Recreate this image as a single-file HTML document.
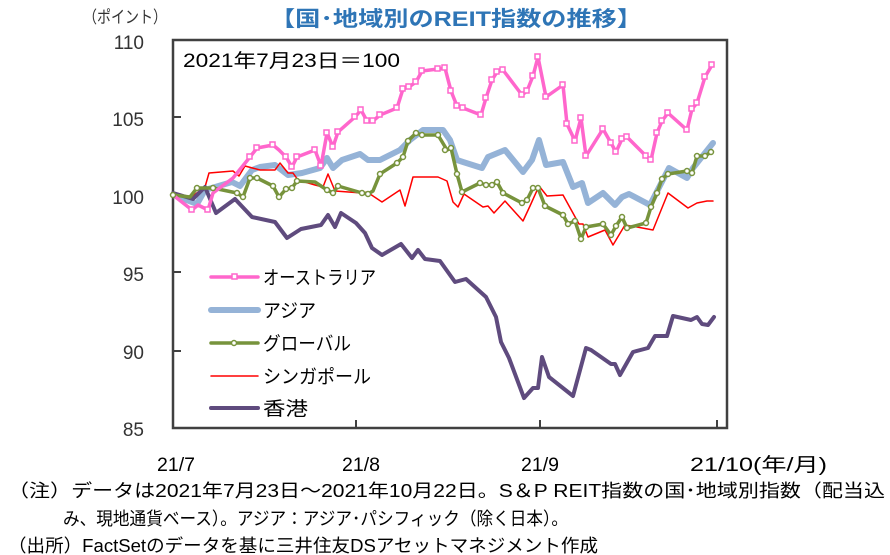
<!DOCTYPE html>
<html><head><meta charset="utf-8"><style>
html,body{margin:0;padding:0;background:#fff;width:890px;height:555px;overflow:hidden}
svg{display:block;font-family:"Liberation Sans","Noto Sans CJK JP",sans-serif}
</style></head><body>
<svg width="890" height="555" viewBox="0 0 890 555" xmlns="http://www.w3.org/2000/svg">
<text x="270" y="26" font-size="21" font-weight="bold" fill="#2e75b6" textLength="372" lengthAdjust="spacingAndGlyphs">【国･地域別のREIT指数の推移】</text>
<text x="83" y="23" font-size="17" fill="#333" textLength="84" lengthAdjust="spacingAndGlyphs">（ポイント）</text>
<g font-size="19" fill="#333" text-anchor="end">
<text x="144" y="49">110</text><text x="144" y="126">105</text><text x="144" y="204">100</text>
<text x="144" y="281">95</text><text x="144" y="359">90</text><text x="144" y="436">85</text>
</g>
<rect x="173" y="40" width="554" height="388" fill="none" stroke="#404040" stroke-width="2.5"/>
<g stroke="#404040" stroke-width="2">
<line x1="173" y1="117" x2="181" y2="117"/><line x1="173" y1="195" x2="181" y2="195"/>
<line x1="173" y1="272" x2="181" y2="272"/><line x1="173" y1="351" x2="181" y2="351"/>
<line x1="356" y1="428" x2="356" y2="420"/><line x1="540" y1="428" x2="540" y2="420"/><line x1="717" y1="428" x2="717" y2="420"/>
</g>
<text x="183" y="67" font-size="19" fill="#000" textLength="217" lengthAdjust="spacingAndGlyphs">2021年7月23日＝100</text>
<g fill="none" stroke-linejoin="round" stroke-linecap="round">
<polyline stroke="#95b3d7" stroke-width="6" points="173,195 197,204 205,190 232,182 240,186 252,170 260,167 275,165 288,175 302,173 320,168 327,158 333,168 342,160 360,154 368,160 380,160 400,150 410,140 423,130 443,130 450,140 457,160 463,162 482,168 488,157 505,150 523,172 532,160 539,140 546,165 563,162 573,187 582,183 588,203 603,193 615,205 622,197 629,194 650,205 669,168 687,178 693,168 713,143"/>
<polyline stroke="#ff0000" stroke-width="1.5" points="173,195 190,198 205,187 209,173 233,171 239,176 245,166 260,170 275,170 280,163 288,173 293,173 298,180 315,185 323,187 328,174 335,191 362,193 367,192 382,202 400,190 405,206 413,177 438,177 447,181 453,202 458,207 464,194 483,207 488,206 494,213 505,201 523,221 530,206 539,186 547,196 563,195 579,224 583,224 588,237 605,230 613,245 625,225 637,227 653,230 668,193 688,208 697,203 707,201 713,201"/>
<polyline stroke="#5f4b7e" stroke-width="4" points="173,193 193,199 205,187 216,213 235,199 252,217 275,222 287,238 301,229 321,225 328,215 335,227 341,213 356,223 365,233 372,248 382,255 401,244 412,258 418,250 425,259 440,261 455,282 466,279 486,297 496,317 501,342 509,358 524,398 533,388 538,388 542,357 549,377 573,396 586,348 591,350 611,364 615,364 620,375 633,352 648,348 655,336 667,336 673,316 691,320 697,317 702,324 708,325 714,317"/>
<polyline stroke="#77933c" stroke-width="3.5" points="173,195 190,197 197,188 213,188 237,193 243,197 250,178 257,178 273,186 279,197 286,189 292,188 297,181 315,182 327,190 333,193 338,186 362,193 368,194 373,191 380,174 397,163 403,157 408,141 416,133 422,135 438,135 447,150 451,148 457,174 462,192 480,183 486,185 492,185 497,182 503,193 522,203 527,200 533,188 538,188 545,206 563,215 568,224 575,221 581,239 586,227 603,224 611,235 616,226 622,217 627,228 646,223 651,207 657,193 662,179 668,174 687,171 692,173 697,156 705,156 711,152"/>
<polyline stroke="#ff66cc" stroke-width="3.5" points="173,195 192,210 198,205 208,210 213,193 233,178 250,157 257,148 273,145 279,150 286,157 292,167 297,157 315,150 321,166 327,133 333,147 338,132 355,117 361,110 367,121 373,121 380,115 397,108 403,89 409,87 416,82 422,71 438,69 445,68 451,91 457,106 463,108 481,115 486,98 492,80 497,72 503,70 522,95 527,91 533,76 538,57 546,97 563,85 567,124 575,141 581,118 586,156 603,129 611,143 616,152 622,139 627,137 646,156 651,160 657,133 662,121 668,113 687,130 692,109 697,103 705,77 712,65"/>
</g>
<g fill="#fff" stroke="#77933c" stroke-width="1.5">
<circle cx="173" cy="195" r="2.5"/><circle cx="197" cy="188" r="2.5"/><circle cx="213" cy="188" r="2.5"/><circle cx="237" cy="193" r="2.5"/><circle cx="243" cy="197" r="2.5"/><circle cx="250" cy="178" r="2.5"/><circle cx="257" cy="178" r="2.5"/><circle cx="273" cy="186" r="2.5"/><circle cx="279" cy="197" r="2.5"/><circle cx="286" cy="189" r="2.5"/><circle cx="292" cy="188" r="2.5"/><circle cx="297" cy="181" r="2.5"/><circle cx="327" cy="190" r="2.5"/><circle cx="333" cy="193" r="2.5"/><circle cx="338" cy="186" r="2.5"/><circle cx="362" cy="193" r="2.5"/><circle cx="368" cy="194" r="2.5"/><circle cx="380" cy="174" r="2.5"/><circle cx="397" cy="163" r="2.5"/><circle cx="403" cy="157" r="2.5"/><circle cx="408" cy="141" r="2.5"/><circle cx="416" cy="133" r="2.5"/><circle cx="422" cy="135" r="2.5"/><circle cx="438" cy="135" r="2.5"/><circle cx="445" cy="150" r="2.5"/><circle cx="451" cy="148" r="2.5"/><circle cx="457" cy="174" r="2.5"/><circle cx="462" cy="192" r="2.5"/><circle cx="480" cy="183" r="2.5"/><circle cx="486" cy="185" r="2.5"/><circle cx="492" cy="185" r="2.5"/><circle cx="497" cy="182" r="2.5"/><circle cx="503" cy="193" r="2.5"/><circle cx="522" cy="203" r="2.5"/><circle cx="527" cy="200" r="2.5"/><circle cx="533" cy="188" r="2.5"/><circle cx="538" cy="188" r="2.5"/><circle cx="545" cy="206" r="2.5"/><circle cx="563" cy="215" r="2.5"/><circle cx="568" cy="224" r="2.5"/><circle cx="575" cy="221" r="2.5"/><circle cx="581" cy="239" r="2.5"/><circle cx="586" cy="227" r="2.5"/><circle cx="603" cy="224" r="2.5"/><circle cx="611" cy="235" r="2.5"/><circle cx="616" cy="226" r="2.5"/><circle cx="622" cy="217" r="2.5"/><circle cx="627" cy="228" r="2.5"/><circle cx="646" cy="223" r="2.5"/><circle cx="651" cy="207" r="2.5"/><circle cx="657" cy="193" r="2.5"/><circle cx="662" cy="179" r="2.5"/><circle cx="668" cy="174" r="2.5"/><circle cx="687" cy="171" r="2.5"/><circle cx="692" cy="173" r="2.5"/><circle cx="697" cy="156" r="2.5"/><circle cx="705" cy="156" r="2.5"/><circle cx="711" cy="152" r="2.5"/>
</g>
<g fill="#fff" stroke="#ff66cc" stroke-width="1.5">
<rect x="189" y="207" width="5" height="5"/><rect x="205" y="207" width="5" height="5"/><rect x="247" y="154" width="5" height="5"/><rect x="254" y="145" width="5" height="5"/><rect x="270" y="142" width="5" height="5"/><rect x="283" y="154" width="5" height="5"/><rect x="289" y="164" width="5" height="5"/><rect x="294" y="154" width="5" height="5"/><rect x="312" y="147" width="5" height="5"/><rect x="318" y="163" width="5" height="5"/><rect x="324" y="130" width="5" height="5"/><rect x="330" y="144" width="5" height="5"/><rect x="335" y="129" width="5" height="5"/><rect x="352" y="114" width="5" height="5"/><rect x="358" y="107" width="5" height="5"/><rect x="364" y="118" width="5" height="5"/><rect x="370" y="118" width="5" height="5"/><rect x="377" y="112" width="5" height="5"/><rect x="394" y="105" width="5" height="5"/><rect x="400" y="86" width="5" height="5"/><rect x="406" y="84" width="5" height="5"/><rect x="413" y="79" width="5" height="5"/><rect x="419" y="68" width="5" height="5"/><rect x="435" y="66" width="5" height="5"/><rect x="442" y="65" width="5" height="5"/><rect x="448" y="88" width="5" height="5"/><rect x="454" y="103" width="5" height="5"/><rect x="460" y="105" width="5" height="5"/><rect x="478" y="112" width="5" height="5"/><rect x="483" y="95" width="5" height="5"/><rect x="489" y="77" width="5" height="5"/><rect x="494" y="69" width="5" height="5"/><rect x="500" y="67" width="5" height="5"/><rect x="519" y="92" width="5" height="5"/><rect x="524" y="88" width="5" height="5"/><rect x="530" y="73" width="5" height="5"/><rect x="535" y="54" width="5" height="5"/><rect x="543" y="94" width="5" height="5"/><rect x="560" y="82" width="5" height="5"/><rect x="564" y="121" width="5" height="5"/><rect x="572" y="138" width="5" height="5"/><rect x="578" y="115" width="5" height="5"/><rect x="583" y="153" width="5" height="5"/><rect x="600" y="126" width="5" height="5"/><rect x="608" y="140" width="5" height="5"/><rect x="613" y="149" width="5" height="5"/><rect x="619" y="136" width="5" height="5"/><rect x="624" y="134" width="5" height="5"/><rect x="643" y="153" width="5" height="5"/><rect x="648" y="157" width="5" height="5"/><rect x="654" y="130" width="5" height="5"/><rect x="659" y="118" width="5" height="5"/><rect x="665" y="110" width="5" height="5"/><rect x="684" y="127" width="5" height="5"/><rect x="689" y="106" width="5" height="5"/><rect x="694" y="100" width="5" height="5"/><rect x="702" y="74" width="5" height="5"/><rect x="709" y="62" width="5" height="5"/>
</g>
<g stroke-linecap="round">
<line x1="211" y1="277" x2="258" y2="277" stroke="#ff66cc" stroke-width="3.5"/>
<rect x="232" y="274" width="5" height="5" fill="#fff" stroke="#ff66cc" stroke-width="1.5"/>
<line x1="211" y1="310" x2="258" y2="310" stroke="#95b3d7" stroke-width="6"/>
<line x1="211" y1="343" x2="258" y2="343" stroke="#77933c" stroke-width="3.5"/>
<circle cx="234" cy="343" r="2.5" fill="#fff" stroke="#77933c" stroke-width="1.5"/>
<line x1="211" y1="376" x2="258" y2="376" stroke="#ff0000" stroke-width="1.5"/>
<line x1="211" y1="408" x2="258" y2="408" stroke="#5f4b7e" stroke-width="4"/>
</g>
<g font-size="19" fill="#000">
<text x="263" y="284" textLength="113" lengthAdjust="spacingAndGlyphs">オーストラリア</text>
<text x="263" y="317" textLength="53" lengthAdjust="spacingAndGlyphs">アジア</text>
<text x="263" y="350" textLength="88" lengthAdjust="spacingAndGlyphs">グローバル</text>
<text x="263" y="383" textLength="108" lengthAdjust="spacingAndGlyphs">シンガポール</text>
<text x="263" y="415" textLength="45" lengthAdjust="spacingAndGlyphs">香港</text>
</g>
<g font-size="19" fill="#000">
<text x="157" y="471" textLength="38" lengthAdjust="spacingAndGlyphs">21/7</text>
<text x="342" y="471" textLength="38" lengthAdjust="spacingAndGlyphs">21/8</text>
<text x="521" y="471" textLength="38" lengthAdjust="spacingAndGlyphs">21/9</text>
<text x="690" y="471" textLength="137" lengthAdjust="spacingAndGlyphs">21/10(年/月)</text>
</g>
<g font-size="18" fill="#000">
<text x="8" y="497" textLength="877" lengthAdjust="spacingAndGlyphs">（注）データは2021年7月23日～2021年10月22日。S＆P REIT指数の国･地域別指数（配当込</text>
<text x="63" y="525" textLength="505" lengthAdjust="spacingAndGlyphs">み、現地通貨ベース）。アジア：アジア･パシフィック（除く日本）。</text>
<text x="8" y="552" textLength="590" lengthAdjust="spacingAndGlyphs">（出所）FactSetのデータを基に三井住友DSアセットマネジメント作成</text>
</g>
</svg>
</body></html>
